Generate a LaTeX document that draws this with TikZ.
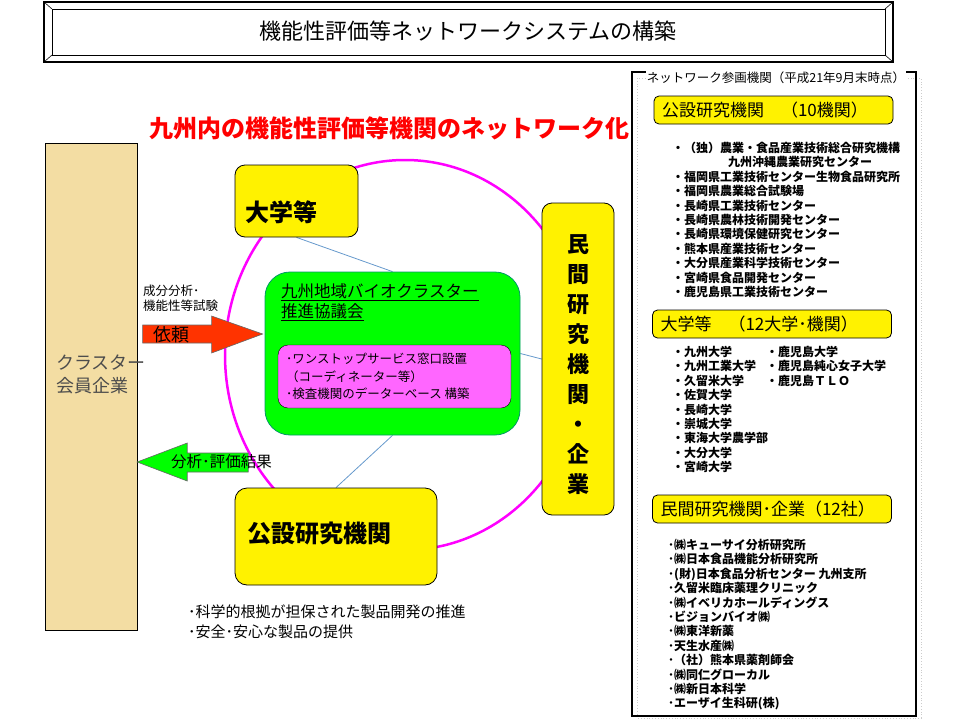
\documentclass[tikz,border=0pt]{standalone}
\usepackage{fontspec}
\setmainfont{Noto Sans CJK JP}
\usetikzlibrary{positioning,backgrounds,calc}
\definecolor{tanfill}{RGB}{243,221,163}
\definecolor{arrowred}{RGB}{255,51,0}
\definecolor{linkblue}{RGB}{102,153,204}
\definecolor{pinkfill}{RGB}{255,102,255}
\definecolor{greenline}{RGB}{0,153,102}
\definecolor{ringpink}{RGB}{255,0,255}
\newcommand{\fsz}[1]{\fontsize{#1}{#1}\selectfont}

\begin{document}
\begin{tikzpicture}[x=1pt,y=-1pt,
    ybox/.style={draw=black, fill=yellow, rounded corners=10pt, line width=0.8pt, inner sep=0pt},
    hbox/.style={draw=black, fill=yellow, rounded corners=5pt, line width=0.8pt, minimum height=28pt, text width=223pt, inner xsep=8pt, align=left, font=\fsz{17}},
    lst/.style={anchor=north west, align=left, inner sep=0pt, font=\bfseries\fontsize{12}{14.4}\selectfont},
    link/.style={linkblue, line width=0.8pt}]
    \useasboundingbox (0,0) rectangle (960,720);

    % title
    \draw[line width=1.6pt] (44,2) rectangle (893,62);
    \draw[line width=0.6pt] (52,9) rectangle (885,55);
    \draw[line width=0.6pt] (44,2) -- (52,9) (893,2) -- (885,9) (44,62) -- (52,55) (893,62) -- (885,55);
    \node (title) at (468,31) {\fsz{22}機能性評価等ネットワークシステムの構築};
    \node[text=red, font=\bfseries\fsz{24}] (net) at (389,128) {九州内の機能性評価等機関のネットワーク化};

    % cluster members
    \node[draw=black, fill=tanfill, minimum width=92pt, minimum height=487pt, inner sep=0pt] (member) at (91,386.5) {};
    \node[anchor=west, align=left, text=black!70, font=\fontsize{18}{23}\selectfont, inner sep=0pt] (member-t) at (56,374) {クラスター\\会員企業};

    % network
    \node[ybox, minimum width=123pt, minimum height=72pt] (univ) at (296.5,201) {};
    \node[anchor=west, inner sep=0pt, font=\bfseries\fsz{24}] (univ-t) at (245,212) {大学等};
    \node[ybox, minimum width=202pt, minimum height=97pt, rounded corners=12pt] (pub) at (336,536.5) {};
    \node[anchor=west, inner sep=0pt, font=\bfseries\fsz{24}] (pub-t) at (247,533) {公設研究機関};
    \node[ybox, minimum width=72pt, minimum height=312pt] (priv) at (578,359) {};
    \node[align=center, inner sep=0pt, font=\bfseries\fontsize{22}{30}\selectfont] (priv-t) at (578,365) {民\\間\\研\\究\\機\\関\\・\\企\\業};
    \node[draw=greenline, fill=green, rounded corners=25pt, minimum width=255pt, minimum height=163pt, line width=0.8pt] (bio) at (392.5,353.5) {};
    \node[anchor=north west, align=left, inner sep=0pt, font=\fontsize{16.5}{20}\selectfont] (bio-t) at (281,283) {\underline{九州地域バイオクラスター}\\\underline{推進協議会}};
    \node[draw=black, fill=pinkfill, rounded corners=10pt, minimum width=233pt, minimum height=63pt] (svc) at (394.5,376.5) {};
    \node[anchor=west, align=left, inner sep=0pt, font=\fontsize{12.5}{17.5}\selectfont] (svc-t) at (286,376.5) {･ワンストップサービス窓口設置\\（コーディネーター等）\\･検査機関のデーターベース 構築};

    \begin{scope}[on background layer]
        \draw[ringpink, line width=2.5pt] (405,355) ellipse (180 and 195);
        \draw[link] (univ.south) -- (bio.north);
        \draw[link] (bio.east) -- (priv.west);
        \draw[link] (bio.south) -- (pub.north);
    \end{scope}

    % request / result arrows
    \filldraw[fill=arrowred, draw=black!60, line width=0.6pt] ($(bio.west)+(-2,-19.5)$) coordinate (req) -- ++(-51,-18) -- ++(0,9) -- ++(-69,0) -- ++(0,18) -- ++(69,0) -- ++(0,10) -- cycle;
    \filldraw[fill=green, draw=black!60, line width=0.6pt] ($(member.east)+(0,75.5)$) coordinate (res) -- ++(50,-19) -- ++(0,10) -- ++(61,0) -- ++(0,19) -- ++(-61,0) -- ++(0,9) -- cycle;
    \node[font=\fsz{18}] (req-t) at (171,335) {依頼};
    \node[anchor=west, inner sep=0pt, font=\fsz{15.5}] (res-t) at (171,462) {分析･評価結果};
    \node[anchor=north west, align=left, inner sep=0pt, font=\fontsize{12.5}{15}\selectfont] (test-t) at (143,285) {成分分析･\\機能性等試験};

    \node[anchor=north west, align=left, inner sep=0pt, font=\fontsize{15}{20}\selectfont] (goal) at (188,605) {･科学的根拠が担保された製品開発の推進\\･安全･安心な製品の提供};

    % participating bodies
    \draw[gray!40, dotted, line width=0.8pt] (637,78) rectangle (921,718);
    \draw[line width=2pt] (632,72) rectangle (916,716);
    \node[fill=white, inner sep=1pt, font=\fsz{12.5}] (panel) at (776,78) {ネットワーク参画機関（平成21年9月末時点）};

    \node[hbox] (h-pub) at (773.5,110) {公設研究機関　（10機関）};
    \node[lst] (l-pub) at (672,142) {・（独）農業・食品産業技術総合研究機構\\\hspace*{56pt}九州沖縄農業研究センター\\・福岡県工業技術センター生物食品研究所\\・福岡県農業総合試験場\\・長崎県工業技術センター\\・長崎県農林技術開発センター\\・長崎県環境保健研究センター\\・熊本県産業技術センター\\・大分県産業科学技術センター\\・宮崎県食品開発センター\\・鹿児島県工業技術センター};

    \node[hbox] (h-univ) at (772,324) {大学等　（12大学･機関）};
    \node[lst] (l-univ1) at (672,346) {・九州大学\\・九州工業大学\\・久留米大学\\・佐賀大学\\・長崎大学\\・崇城大学\\・東海大学農学部\\・大分大学\\・宮崎大学};
    \node[lst] (l-univ2) at (766,346) {・鹿児島大学\\・鹿児島純心女子大学\\・鹿児島ＴＬＯ};

    \node[hbox] (h-priv) at (772,509) {民間研究機関･企業（12社）};
    \node[lst] (l-priv) at (668,539) {･㈱キューサイ分析研究所\\･㈱日本食品機能分析研究所\\･(財)日本食品分析センター 九州支所\\･久留米臨床薬理クリニック\\･㈱イベリカホールディングス\\･ビジョンバイオ㈱\\･㈱東洋新薬\\･天生水産㈱\\･（社）熊本県薬剤師会\\･㈱同仁グローカル\\･㈱新日本科学\\･エーザイ生科研(株)};
\end{tikzpicture}
\end{document}
